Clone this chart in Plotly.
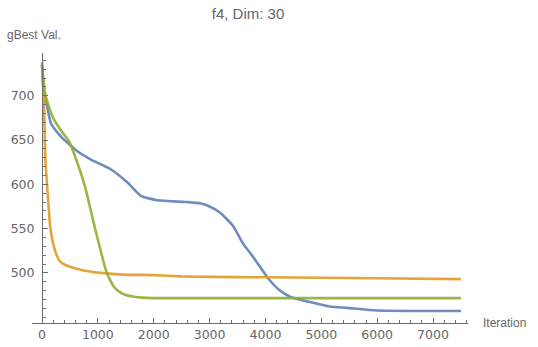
import plotly.graph_objects as go

# Data
orange_x = [0, 20, 40, 60, 90, 150, 200, 250, 300, 360, 500, 770, 1050, 1450, 2000, 2500, 3000, 4000, 5000, 6000, 7500]
orange_y = [735, 715, 680, 628, 600, 550, 533, 522, 515, 511, 507, 502.5, 500, 498, 497.5, 496, 495.5, 495, 494.5, 494, 493]

green_x = [0, 50, 100, 215, 350, 490, 600, 730, 800, 950, 1050, 1160, 1290, 1400, 1500, 1650, 1800, 2000, 3000, 5000, 7500]
green_y = [738, 705, 692, 673, 660, 648, 630, 606, 590, 550, 525, 500, 484, 478, 475, 473, 472, 471.5, 471.5, 471.5, 471.5]

blue_x = [0, 30, 70, 160, 340, 640, 875, 1230, 1530, 1770, 2070, 2600, 2830, 3000, 3190, 3420, 3600, 3780, 4050, 4260, 4440, 4800, 5150, 5460, 6000, 7500]
blue_y = [735, 705, 695, 669, 654, 637, 628, 617, 602, 587, 582, 580, 578.6, 575, 568, 553, 533, 518, 493.7, 480, 473, 467, 462, 460.5, 457.5, 457]

x_ticks = [0, 1000, 2000, 3000, 4000, 5000, 6000, 7000]
y_ticks = [500, 550, 600, 650, 700]

title_text = "f4, Dim: 30"
y_label = "gBest Val."
x_label = "Iteration"

W, H = 538, 347
ml, mr, mt, mb = 31.7, 69.7, 53.3, 24.3
xr = [-179, 7626]
yr = [443.4, 748.3]

FONT = "Liberation Sans, Arial, sans-serif"
TFONT = "DejaVu Sans, sans-serif"
TXT = "#666666"
AX = "#6e6e6e"

fig = go.Figure()
fig.add_trace(go.Scatter(x=blue_x, y=blue_y, mode="lines", name="Series 1",
                         line=dict(color="#5E81B5", width=2.6, shape="spline", smoothing=0.5), opacity=0.9))
fig.add_trace(go.Scatter(x=orange_x, y=orange_y, mode="lines", name="Series 2",
                         line=dict(color="#E19C24", width=2.6, shape="spline", smoothing=0.5), opacity=0.9))
fig.add_trace(go.Scatter(x=green_x, y=green_y, mode="lines", name="Series 3",
                         line=dict(color="#8FB032", width=2.6, shape="spline", smoothing=0.5), opacity=0.9))

ypos = (0 - xr[0]) / (xr[1] - xr[0])

fig.update_layout(
    width=W, height=H,
    margin=dict(l=ml, r=mr, t=mt, b=mb, pad=0, autoexpand=False),
    paper_bgcolor="white", plot_bgcolor="white",
    showlegend=False,
    font=dict(family=FONT, color=TXT, size=12),
    title=dict(text=title_text, x=248 / W, xanchor="center", y=1 - 14 / H, yanchor="middle",
               font=dict(family=FONT, size=15, color=TXT)),
    xaxis=dict(range=xr, showgrid=False, zeroline=False, showline=True, linecolor=AX, linewidth=1,
               automargin=False,
               tickmode="array", tickvals=x_ticks, ticks="inside", ticklen=5, tickcolor=AX,
               ticklabelstandoff=0,
               tickfont=dict(family=TFONT, size=12.5, color=TXT),
               minor=dict(tick0=0, dtick=200, ticks="inside", ticklen=3, tickcolor=AX)),
    yaxis=dict(range=yr, showgrid=False, zeroline=False, showline=True, linecolor=AX, linewidth=1,
               automargin=False, anchor="free", position=ypos,
               tickmode="array", tickvals=y_ticks, ticks="inside", ticklen=5, tickcolor=AX,
               ticklabelstandoff=5,
               tickfont=dict(family=TFONT, size=12.5, color=TXT),
               minor=dict(tick0=0, dtick=10, ticks="inside", ticklen=3, tickcolor=AX)),
    annotations=[
        dict(text=y_label, xref="paper", yref="paper", x=(5 - ml) / (W - ml - mr),
             y=(H - mb - 35) / (H - mt - mb), xanchor="left", yanchor="middle", showarrow=False,
             font=dict(family=FONT, size=12, color=TXT)),
        dict(text=x_label, xref="paper", yref="paper", x=(481.7 - ml) / (W - ml - mr),
             y=(H - mb - 323) / (H - mt - mb), xanchor="left", yanchor="middle", showarrow=False,
             font=dict(family=FONT, size=12, color=TXT)),
    ],
)

fig.write_html("out.html")
